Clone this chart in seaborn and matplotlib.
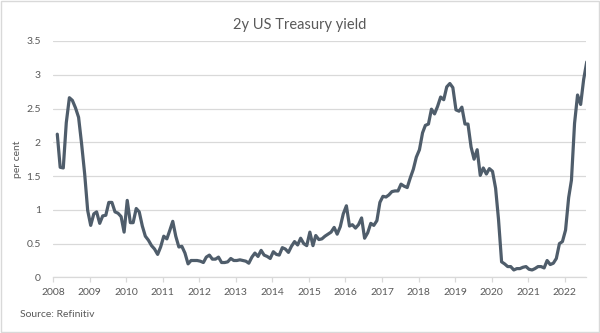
import numpy as np
import pandas as pd
import matplotlib
matplotlib.use("Agg")
import matplotlib.pyplot as plt
import seaborn as sns

# Monthly 2-year US Treasury yield (per cent), Jan 2008 onwards
y2008 = [2.12, 1.63, 1.62, 2.29, 2.66, 2.62, 2.51, 2.37, 1.98, 1.53, 0.99, 0.77]
y2009 = [0.94, 0.97, 0.80, 0.91, 0.92, 1.11, 1.11, 0.97, 0.95, 0.90, 0.67, 1.14]
y2010 = [0.81, 0.81, 1.02, 0.97, 0.76, 0.61, 0.55, 0.47, 0.42, 0.34, 0.45, 0.61]
y2011 = [0.57, 0.69, 0.83, 0.61, 0.45, 0.46, 0.36, 0.20, 0.25, 0.25, 0.25, 0.24]
y2012 = [0.22, 0.30, 0.33, 0.27, 0.27, 0.30, 0.22, 0.22, 0.23, 0.28, 0.25, 0.25]
y2013 = [0.26, 0.25, 0.24, 0.21, 0.30, 0.36, 0.31, 0.40, 0.33, 0.31, 0.28, 0.38]
y2014 = [0.34, 0.33, 0.44, 0.42, 0.37, 0.46, 0.53, 0.48, 0.58, 0.50, 0.47, 0.67]
y2015 = [0.47, 0.62, 0.56, 0.57, 0.61, 0.64, 0.67, 0.74, 0.64, 0.75, 0.94, 1.06]
y2016 = [0.76, 0.78, 0.73, 0.78, 0.88, 0.58, 0.66, 0.80, 0.77, 0.84, 1.11, 1.20]
y2017 = [1.19, 1.22, 1.27, 1.28, 1.28, 1.38, 1.35, 1.33, 1.47, 1.60, 1.78, 1.89]
y2018 = [2.14, 2.25, 2.27, 2.49, 2.42, 2.53, 2.67, 2.63, 2.82, 2.87, 2.81, 2.48]
y2019 = [2.46, 2.52, 2.27, 2.27, 1.93, 1.75, 1.89, 1.51, 1.62, 1.53, 1.61, 1.57]
y2020 = [1.32, 0.86, 0.23, 0.20, 0.16, 0.16, 0.11, 0.13, 0.13, 0.15, 0.16, 0.12]
y2021 = [0.11, 0.13, 0.16, 0.16, 0.14, 0.25, 0.19, 0.21, 0.28, 0.50, 0.53, 0.70]
y2022 = [1.18, 1.44, 2.28, 2.70, 2.56, 2.93, 3.19]

yields = (y2008 + y2009 + y2010 + y2011 + y2012 + y2013 + y2014 + y2015 +
          y2016 + y2017 + y2018 + y2019 + y2020 + y2021 + y2022)
dates = pd.date_range("2008-01-10", periods=len(yields), freq="MS") + pd.Timedelta(days=9)
year_ticks = list(range(2008, 2023))
y_ticks = [0, 0.5, 1, 1.5, 2, 2.5, 3, 3.5]

dec_year = dates.year + (dates.dayofyear - 1) / 365.25
df = pd.DataFrame({"year": dec_year, "yield": yields})

sns.set_theme(style="white")
plt.rcParams["font.family"] = ["Lato", "DejaVu Sans"]

grey_txt = "#595959"
grid_c = "#d9d9d9"
line_c = "#4f5d6b"

fig = plt.figure(figsize=(6.0, 3.33), dpi=100)
ax = fig.add_axes([0.0888, 0.167, 0.977 - 0.0888, 0.877 - 0.167])

sns.lineplot(data=df, x="year", y="yield", ax=ax, color=line_c, linewidth=2.3)

ax.set_xlim(2008, 2022.59)
ax.set_ylim(0, 3.5)
ax.set_yticks(y_ticks)
ax.set_yticklabels([f"{v:g}" for v in y_ticks])
ax.set_xticks(year_ticks)
ax.set_xticklabels([str(y) for y in year_ticks])

ax.grid(axis="y", color=grid_c, linewidth=0.9)
ax.grid(axis="x", visible=False)
ax.set_axisbelow(True)
for s in ["left", "right", "top"]:
    ax.spines[s].set_visible(False)
ax.spines["bottom"].set_color(grid_c)
ax.spines["bottom"].set_linewidth(0.9)

ax.tick_params(axis="y", length=0, pad=9, labelsize=7.5, labelcolor=grey_txt)
ax.tick_params(axis="x", direction="out", length=3.5, width=0.9, color=grid_c,
               pad=4, labelsize=7.5, labelcolor=grey_txt, bottom=True)

ax.set_xlabel("")
ax.set_ylabel("per cent", fontsize=7.5, color=grey_txt, labelpad=3)

fig.text(0.5, 0.925, "2y US Treasury yield", ha="center", va="center",
         fontsize=10.5, color=grey_txt)
fig.text(0.034, 0.057, "Source: Refinitiv", ha="left", va="center",
         fontsize=7.5, color=grey_txt)

fig.patches.append(plt.Rectangle((0.002, 0.003), 0.996, 0.994, transform=fig.transFigure,
                                 fill=False, edgecolor=grid_c, linewidth=1.0))

fig.savefig("out.png", dpi=100)
